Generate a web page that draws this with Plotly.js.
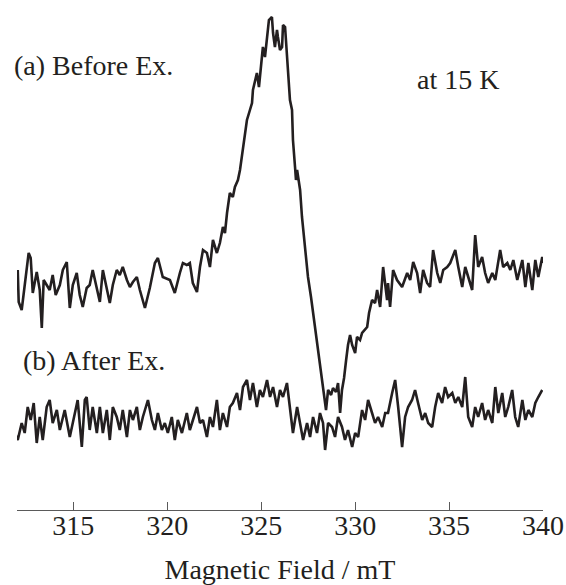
<!DOCTYPE html>
<html>
<head>
<meta charset="utf-8">
<script src="https://cdn.plot.ly/plotly-3.0.1.min.js"></script>
<style>html,body{margin:0;padding:0;background:#fff;}#chart{width:566px;height:585px;}</style>
</head>
<body>
<div id="chart"></div>
<script>
// (a) Before Ex. — magnetic field (mT) and EPR intensity (a.u.)
const fieldA = [312.04,312.09,312.25,312.41,312.62,312.73,312.84,313.05,313.21,313.32,
313.42,313.58,313.74,313.90,314.06,314.28,314.44,314.65,314.81,314.97,
315.18,315.34,315.50,315.71,315.87,316.03,316.25,316.41,316.57,316.78,
316.94,317.10,317.31,317.47,317.63,317.85,318.01,318.17,318.38,318.54,
318.81,319.07,319.34,319.50,319.76,320.14,320.40,320.67,320.83,321.04,
321.20,321.36,321.58,321.74,321.90,322.11,322.27,322.43,322.64,322.80,
322.96,323.07,323.18,323.33,323.49,323.60,323.76,323.87,324.03,324.13,
324.24,324.40,324.51,324.56,324.77,324.88,325.04,325.09,325.20,325.31,
325.41,325.57,325.63,325.73,325.84,325.89,326.00,326.11,326.16,326.27,
326.37,326.43,326.53,326.64,326.69,326.80,326.85,326.91,327.07,327.17,
327.28,327.39,327.49,327.65,327.81,327.97,328.13,328.29,328.45,328.56,
328.72,328.82,328.98,329.09,329.20,329.30,329.41,329.52,329.62,329.73,
329.84,330.00,330.10,330.26,330.37,330.64,330.74,330.90,331.06,331.17,
331.33,331.49,331.70,331.75,331.86,332.02,332.23,332.50,332.77,332.93,
333.09,333.30,333.46,333.62,333.83,333.99,334.15,334.37,334.53,334.69,
334.90,335.06,335.33,335.49,335.70,335.86,336.02,336.23,336.39,336.55,
336.76,336.92,337.08,337.30,337.46,337.72,337.88,338.10,338.26,338.42,
338.63,338.90,339.06,339.22,339.43,339.59,339.75,339.96,340.00];
const intensA = [15,-17,-25,0,32,27,-8,13,-5,-43,
5,0,-5,10,-10,0,15,23,-23,0,
12,-10,-22,-3,0,15,-5,-17,15,-5,
-18,0,15,10,18,5,-2,3,8,-5,
-23,-3,22,27,8,5,-8,12,22,20,
22,2,-7,18,35,32,18,45,32,42,
58,52,72,92,88,98,105,115,135,152,
165,175,182,195,212,198,225,238,228,245,
265,268,252,238,255,248,235,238,260,258,
232,212,185,175,145,118,105,115,95,68,
45,22,8,-12,-35,-55,-77,-100,-125,-105,
-110,-103,-107,-98,-128,-105,-93,-75,-60,-50,
-60,-68,-52,-55,-48,-42,-28,-15,-18,-5,
-22,18,-15,2,-22,15,5,-2,12,5,
23,12,-8,15,2,-2,35,12,2,15,
18,22,35,18,-2,18,8,-5,50,18,
28,12,2,12,5,35,18,22,15,25,
5,25,-2,22,-5,25,8,28,22];

// (b) After Ex.
const fieldB = [311.88,312.04,312.25,312.41,312.57,312.73,312.89,313.05,313.21,313.37,
313.58,313.74,313.90,314.12,314.28,314.54,314.81,315.07,315.23,315.45,
315.61,315.71,315.87,316.03,316.25,316.41,316.57,316.78,316.94,317.10,
317.31,317.47,317.63,317.85,318.01,318.17,318.38,318.54,318.70,318.97,
319.18,319.34,319.50,319.71,319.87,320.03,320.24,320.40,320.56,320.78,
321.04,321.20,321.36,321.58,321.74,321.90,322.11,322.27,322.43,322.64,
322.80,322.96,323.18,323.33,323.49,323.71,323.87,324.03,324.24,324.40,
324.56,324.77,324.93,325.09,325.31,325.47,325.63,325.84,326.00,326.16,
326.37,326.53,326.69,326.91,327.07,327.23,327.44,327.60,327.76,327.97,
328.13,328.29,328.40,328.56,328.77,328.93,329.09,329.30,329.46,329.62,
329.84,330.00,330.16,330.37,330.53,330.69,330.90,331.06,331.22,331.44,
331.60,331.75,331.97,332.13,332.29,332.50,332.66,332.82,333.03,333.19,
333.35,333.57,333.73,333.89,334.10,334.26,334.42,334.63,334.79,334.95,
335.17,335.33,335.49,335.70,335.86,336.02,336.23,336.39,336.55,336.76,
336.92,337.08,337.30,337.46,337.62,337.83,337.99,338.15,338.36,338.52,
338.68,338.90,339.06,339.22,339.43,339.59,339.75,339.96];
const intensB = [-13,-20,-3,-13,13,0,17,-23,3,-20,
13,20,-3,10,-10,10,-17,7,20,-27,
20,23,-10,13,-13,13,-13,10,-20,13,
3,-10,10,-17,10,0,13,-10,3,20,
0,-10,7,-10,-3,-13,3,-20,0,-13,
7,-10,0,13,-3,0,-17,3,-7,20,
-10,7,-7,13,17,27,10,33,40,20,
37,13,30,23,40,23,33,13,30,23,
37,10,-13,13,-3,-20,-3,-17,3,-13,
7,-3,-30,-3,-7,-17,3,-7,-20,-10,
-27,-13,-17,10,0,20,7,-3,3,-7,
7,7,27,40,13,-27,3,13,20,30,
17,0,7,-3,-7,13,27,17,33,23,
27,17,23,13,43,3,-7,13,3,17,
0,10,-3,33,7,27,3,13,30,3,
-7,20,0,10,3,17,23,30];

const tickVals = [315, 320, 325, 330, 335, 340];
const tickText = ['315', '320', '325', '330', '335', '340'];

// vertical stacking offsets of the two spectra (display only)
const OFFSET_A = 225;
const OFFSET_B = 90;

const INK = '#231f20';
const FONT = 'Liberation Serif, Times New Roman, serif';

const traces = [
  {x: fieldA, y: intensA.map(v => v + OFFSET_A), type: 'scatter', mode: 'lines',
   line: {color: INK, width: 2.6}, cliponaxis: false, hoverinfo: 'skip'},
  {x: fieldB, y: intensB.map(v => v + OFFSET_B), type: 'scatter', mode: 'lines',
   line: {color: INK, width: 2.6}, cliponaxis: false, hoverinfo: 'skip'}
];

const layout = {
  width: 566, height: 585,
  margin: {l: 17, r: 23, t: 0, b: 75, pad: 0},
  paper_bgcolor: '#fff', plot_bgcolor: '#fff',
  showlegend: false,
  font: {family: FONT, color: INK, size: 28},
  xaxis: {
    range: [312, 340], showgrid: false, zeroline: false,
    showline: true, linecolor: '#5a5a5a', linewidth: 1,
    ticks: 'inside', ticklen: 8, tickwidth: 1, tickcolor: '#5a5a5a',
    tickvals: tickVals, ticktext: tickText,
    tickfont: {family: FONT, size: 28, color: INK},
    ticklabelstandoff: -10,
    title: {text: 'Magnetic Field / mT', font: {family: FONT, size: 28, color: INK}, standoff: 21},
    automargin: false, fixedrange: true
  },
  yaxis: {range: [0, 510], visible: false, fixedrange: true},
  annotations: [
    {text: '(a) Before Ex.', xref: 'paper', yref: 'paper', x: -0.009, y: 0.8725,
     xanchor: 'left', yanchor: 'middle', showarrow: false, font: {family: FONT, size: 28, color: INK}},
    {text: 'at 15 K', xref: 'paper', yref: 'paper', x: 0.757, y: 0.845,
     xanchor: 'left', yanchor: 'middle', showarrow: false, font: {family: FONT, size: 28, color: INK}},
    {text: '(b) After Ex.', xref: 'paper', yref: 'paper', x: 0.007, y: 0.294,
     xanchor: 'left', yanchor: 'middle', showarrow: false, font: {family: FONT, size: 28, color: INK}}
  ]
};

Plotly.newPlot('chart', traces, layout, {staticPlot: true, displayModeBar: false});
</script>
</body>
</html>
